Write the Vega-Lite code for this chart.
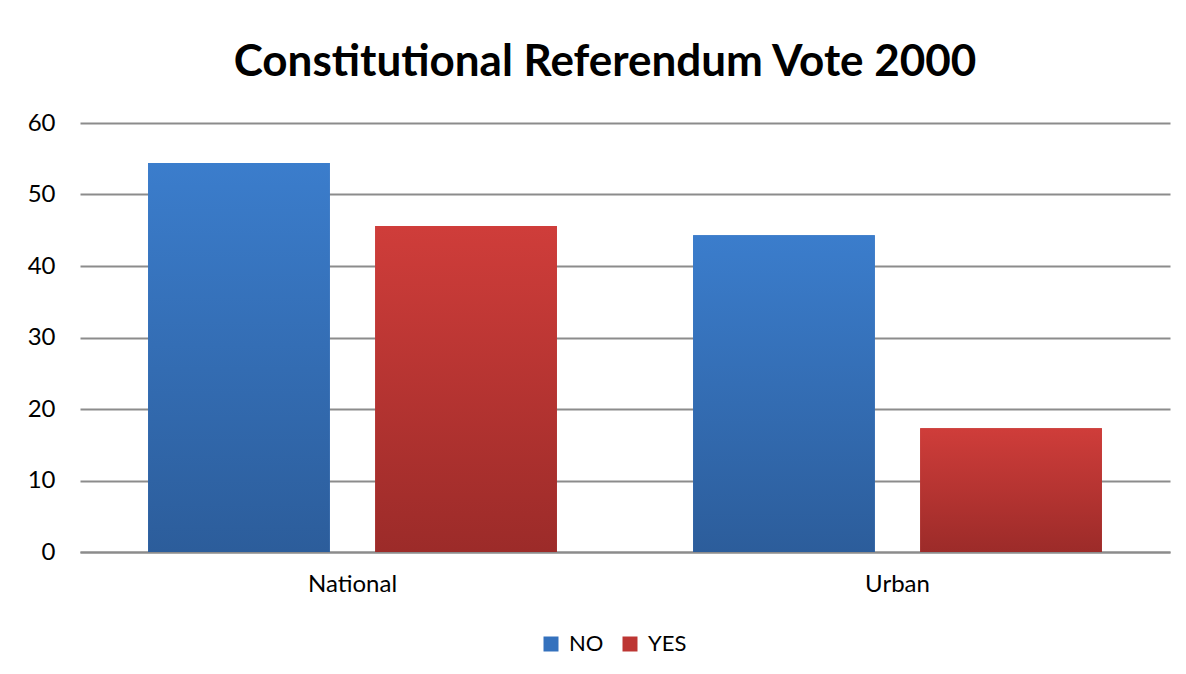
{
  "$schema": "https://vega.github.io/schema/vega-lite/v6.json",
  "width": 1090,
  "height": 429,
  "autosize": {"type": "none"},
  "padding": {"left": 80, "top": 123, "right": 16, "bottom": 122},
  "background": "white",
  "title": {"text": "Constitutional Referendum Vote 2000", "font": "Lato", "fontSize": 44, "fontWeight": "bold", "color": "#000000", "offset": 26, "dx": -20, "anchor": "middle"},
  "data": {"values": [
    {"region": "National", "vote": "NO", "value": 54.4},
    {"region": "National", "vote": "YES", "value": 45.6},
    {"region": "Urban", "vote": "NO", "value": 44.3},
    {"region": "Urban", "vote": "YES", "value": 17.3}
  ]},
  "encoding": {
    "x": {"field": "region", "type": "nominal", "sort": ["National", "Urban"],
      "scale": {"paddingInner": 0.25, "paddingOuter": 0.125},
      "axis": {"title": null, "labelAngle": 0, "labelFont": "Lato", "labelFontSize": 24, "labelColor": "#000000", "labelPadding": 20, "ticks": false, "domain": true, "domainColor": "#8c8c8c", "domainWidth": 2, "grid": false}},
    "xOffset": {"field": "vote", "type": "nominal", "sort": ["NO", "YES"], "scale": {"paddingInner": 0.2, "paddingOuter": 0}},
    "y": {"field": "value", "type": "quantitative", "scale": {"domain": [0, 60]},
      "axis": {"title": null, "values": [0, 10, 20, 30, 40, 50, 60], "labelFont": "Lato", "labelFontSize": 24, "labelColor": "#000000", "labelPadding": 25, "ticks": false, "domain": false, "grid": true, "gridColor": "#8c8c8c", "gridWidth": 2}}
  },
  "layer": [
    {"mark": {"type": "bar"},
     "encoding": {"color": {"field": "vote", "type": "nominal", "scale": {"domain": ["NO", "YES"], "range": ["#3471bd", "#bd3633"]},
       "legend": {"title": null, "orient": "none", "legendX": 460, "legendY": 510, "direction": "horizontal", "symbolType": "square", "symbolSize": 225, "symbolStrokeWidth": 0, "labelFont": "Lato", "labelFontSize": 22, "labelColor": "#000000", "labelOffset": 7, "columnPadding": 15}}}},
    {"transform": [{"filter": "datum.vote === 'NO'"}],
     "mark": {"type": "bar", "fill": {"gradient": "linear", "x1": 0, "y1": 0, "x2": 0, "y2": 1, "stops": [{"offset": 0, "color": "#3b7dcc"}, {"offset": 1, "color": "#2c5d9b"}]}}},
    {"transform": [{"filter": "datum.vote === 'YES'"}],
     "mark": {"type": "bar", "fill": {"gradient": "linear", "x1": 0, "y1": 0, "x2": 0, "y2": 1, "stops": [{"offset": 0, "color": "#cf3d3a"}, {"offset": 1, "color": "#9c2b29"}]}}}
  ],
  "config": {"view": {"stroke": null}}
}
